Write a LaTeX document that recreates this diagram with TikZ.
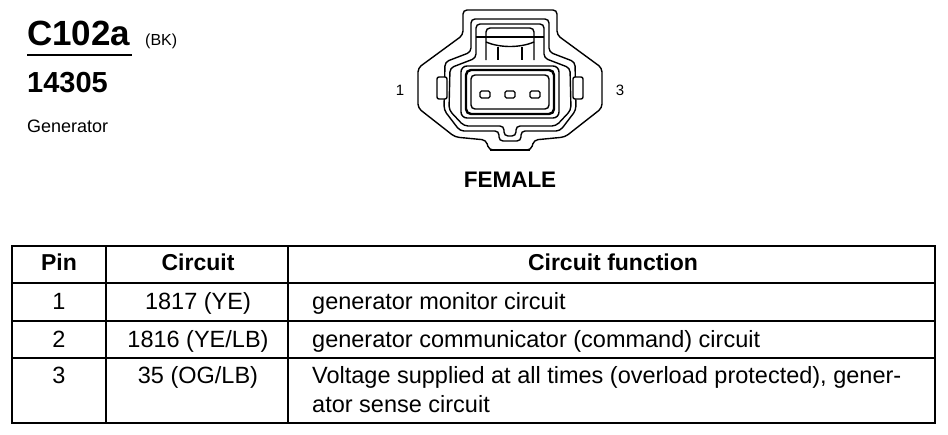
\documentclass[tikz,border=0pt]{standalone}
\usepackage{fontspec}
\setmainfont{Liberation Sans}
\usetikzlibrary{backgrounds}

\begin{document}
\begin{tikzpicture}[x=1pt,y=-1pt]
\useasboundingbox (0,0) rectangle (948,434);
% title block
\begin{scope}
\tikzstyle{every node}=[inner sep=0pt, anchor=base west];
\draw (27,45) node[font=\bfseries\fontsize{35}{40}\selectfont] (c1) {C102a};
\draw (145,45) node[font=\fontsize{16}{18}\selectfont] (c2) {(BK)};
\draw[line width=1.5pt] (27,55) -- (132,55);
\draw (27,92) node[font=\bfseries\fontsize{29}{34}\selectfont] (c3) {14305};
\draw (27,132) node[font=\fontsize{18}{20}\selectfont] (c4) {Generator};
\end{scope}

% connector face
\begin{scope}[line width=1.4pt, rounded corners=4pt]
\draw (510,10) -- (557,10) -- (557,35) -- (602,68) -- (602,108) -- (565,137)
  -- (534,140) -- (531,150) -- (489,150) -- (486,140) -- (455,137) -- (418,108)
  -- (418,68) -- (463,35) -- (463,10) -- cycle;
\draw[line width=2.6pt, rounded corners=0pt] (490,150) -- (530,150);
\draw (510,19) -- (549,19) -- (549,52) -- (575,62) -- (576,110) -- (560,131)
  -- (521,131) -- (521,141) -- (499,141) -- (499,131) -- (460,131) -- (444,110)
  -- (445,62) -- (471,52) -- (471,19) -- cycle;
\draw (510,24) -- (544,24) -- (544,58) -- (570,68) -- (571,110) -- (556,126)
  -- (516,126) -- (516,136) -- (504,136) -- (504,126) -- (464,126) -- (449,110)
  -- (450,68) -- (476,58) -- (476,24) -- cycle;
\draw[fill=white, rounded corners=2pt] (437,77) rectangle (447,99);
\draw[fill=white, rounded corners=2pt] (573,77) rectangle (583,99);
% latch
\draw (486,60) -- (486,28) -- (534,28) -- (534,60);
\draw[rounded corners=0pt] (476,37) -- (544,37);
\draw[rounded corners=0pt] (486,42) .. controls (500,48) and (520,48) .. (534,42);
\draw[line width=1.8pt, rounded corners=0pt] (498,47) -- (498,60) (522,47) -- (522,60);
% cavity
\draw[fill=white, rounded corners=6pt] (461,66) rectangle (559,118);
\draw[line width=2.4pt, rounded corners=5pt] (466,70) rectangle (554,114);
\draw (471,75) rectangle (549,109);
\draw[rounded corners=1.5pt] (480,91) rectangle (490,98);
\draw[rounded corners=1.5pt] (505,91) rectangle (515,98);
\draw[rounded corners=1.5pt] (530,91) rectangle (540,98);
\end{scope}
\begin{scope}
\tikzstyle{every node}=[inner sep=0pt];
\draw (400,90) node[font=\fontsize{15}{16}\selectfont] (p1) {1};
\draw (620,90) node[font=\fontsize{15}{16}\selectfont] (p3) {3};
\draw (510,187) node[anchor=base, font=\bfseries\fontsize{22.5}{26}\selectfont] (fem) {FEMALE};
\end{scope}

% pin table
\begin{scope}
\tikzstyle{every node}=[inner sep=0pt, anchor=base, font=\fontsize{23.5}{29}\selectfont];
\draw[line width=1.6pt] (12,246) rectangle (935,423);
\draw[line width=2.6pt] (12,423) -- (935,423) -- (935,246);
\draw[line width=2.2pt] (12,283) -- (935,283);
\draw[line width=1.3pt] (12,321) -- (935,321) (12,358) -- (935,358)
  (106,246) -- (106,423) (288,246) -- (288,423);
\draw (59,270) node[font=\bfseries\fontsize{23}{29}\selectfont] (h1) {Pin};
\draw (198,270) node[font=\bfseries\fontsize{23}{29}\selectfont] (h2) {Circuit};
\draw (613,270) node[font=\bfseries\fontsize{23}{29}\selectfont] (h3) {Circuit function};
\draw (59,309) node (r1a) {1};
\draw (198,309) node (r1b) {1817 (YE)};
\draw (312,309) node[anchor=base west] (r1c) {generator monitor circuit};
\draw (59,347) node (r2a) {2};
\draw (198,347) node (r2b) {1816 (YE/LB)};
\draw (312,347) node[anchor=base west] (r2c) {generator communicator (command) circuit};
\draw (59,383) node (r3a) {3};
\draw (198,383) node (r3b) {35 (OG/LB)};
\draw (312,383) node[anchor=base west] (r3c) {Voltage supplied at all times (overload protected), gener-};
\draw (312,412) node[anchor=base west] (r3d) {ator sense circuit};
\end{scope}
\end{tikzpicture}
\end{document}
